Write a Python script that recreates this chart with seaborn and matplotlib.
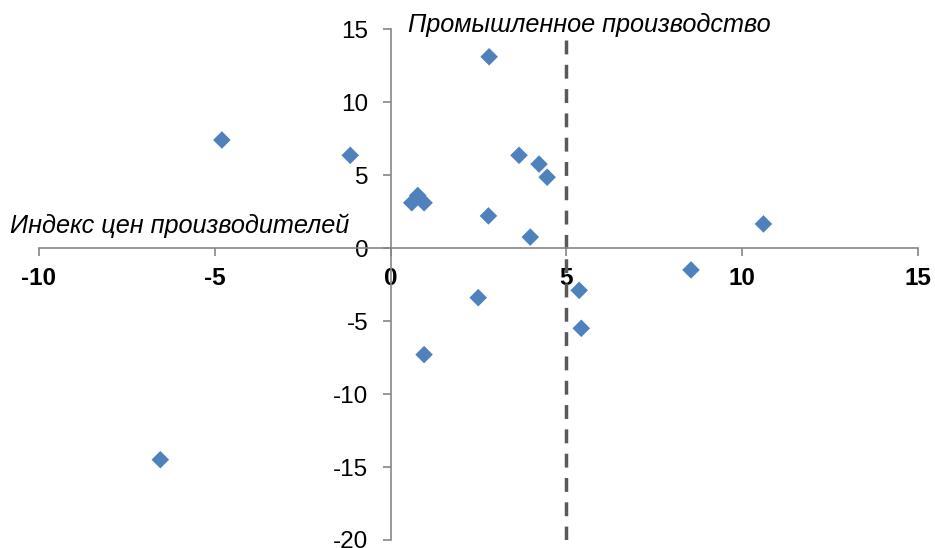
import numpy as np
import pandas as pd
import matplotlib
matplotlib.use("Agg")
import matplotlib.pyplot as plt
import seaborn as sns

# industrial production growth (x) vs producer price index (y)
prod = [2.8, -4.8, -1.15, 3.65, 4.22, 4.45, 0.6, 0.77, 0.95, 2.78, 3.97,
        10.6, 8.54, 5.36, 5.42, 2.49, 0.95, -6.55]
ppi = [13.1, 7.4, 6.35, 6.35, 5.75, 4.85, 3.1, 3.6, 3.1, 2.2, 0.75,
       1.65, -1.5, -2.9, -5.5, -3.4, -7.3, -14.5]

x_ticks = [-10, -5, 0, 5, 10, 15]
y_ticks = [-20, -15, -10, -5, 0, 5, 10, 15]
threshold = 5

df = pd.DataFrame({'prod': prod, 'ppi': ppi})

sns.set_style("white")
plt.rcParams['font.family'] = ['Liberation Sans', 'DejaVu Sans']

fig = plt.figure(figsize=(9.35, 5.48), dpi=100)
ax = fig.add_axes([0.0417, 0.0146, 0.9403, 0.9324])

sns.scatterplot(data=df, x='prod', y='ppi', marker='D', s=80,
                color='#4F81BD', edgecolor='none', ax=ax, zorder=3)

ax.plot([threshold, threshold], [-20, 14.3], linestyle=(0, (4, 3)),
        color='#595959', linewidth=2.5, zorder=2)

for side in ['top', 'right']:
    ax.spines[side].set_visible(False)
ax.spines['left'].set_position(('data', 0))
ax.spines['bottom'].set_position(('data', 0))
for side in ['left', 'bottom']:
    ax.spines[side].set_color('#868686')
    ax.spines[side].set_linewidth(1.2)
ax.tick_params(axis='both', direction='out', length=6, width=1.2,
               color='#868686', bottom=True, left=True, labelsize=17.5,
               labelcolor='black')
ax.tick_params(axis='x', pad=8)
ax.tick_params(axis='y', pad=10)
ax.set_xlabel('')
ax.set_ylabel('')

ax.set_xlim(-10, 15)
ax.set_ylim(-20, 15)
ax.set_xticks(x_ticks)
ax.set_yticks(y_ticks)
ax.set_xticklabels([str(t) for t in x_ticks])
ax.set_yticklabels([str(t) for t in y_ticks])
for lbl in ax.get_xticklabels():
    lbl.set_fontweight('bold')
    lbl.set_fontsize(17.5)
    lbl.set_color('black')
for lbl in ax.get_yticklabels():
    lbl.set_fontsize(17.5)
    lbl.set_color('black')

fig.text(408 / 935, 1 - 25 / 548, 'Промышленное производство', fontsize=18.2,
         style='italic', ha='left', va='center', color='black')
fig.text(10 / 935, 1 - 226 / 548, 'Индекс цен производителей', fontsize=18.2,
         style='italic', ha='left', va='center', color='black')

fig.savefig('out.png', dpi=100)
